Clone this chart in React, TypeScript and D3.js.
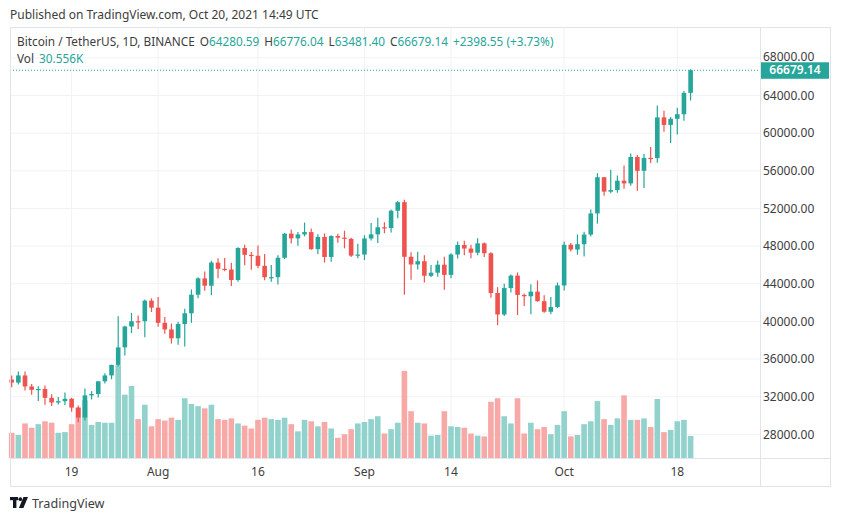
import React from "react";
import * as d3 from "d3";

const startDate = new Date(2021, 6, 10);
const endDate = new Date(2021, 9, 20);

const opens = [33815.81,33502.87,34259.0,33086.94,32729.12,32820.03,31874.49,31383.86,31520.07,31778.57,30839.65,29790.34,32144.51,32287.58,33634.1,34261.51,35381.02,37241.33,39456.61,40019.57,40018.49,42206.36,41461.84,39850.27,39146.86,38207.04,39723.17,40862.46,42836.87,44572.54,43794.36,46248.87,45585.0,45510.67,44400.06,47799.99,47068.5,46973.82,45901.3,44695.95,44699.37,46760.62,49322.47,48821.88,49239.22,49488.85,47674.01,48973.32,46843.86,49069.9,48895.35,48767.84,46982.91,47100.89,48810.51,49246.63,50000.0,49917.54,51756.88,52666.2,46868.57,46048.31,46395.14,44842.2,45173.68,46025.23,44940.72,47103.28,48121.4,47737.81,47299.98,48292.75,47241.75,43016.64,40734.09,43546.37,44865.26,42810.58,42670.63,43160.9,42147.35,41025.01,41524.29,43820.01,48141.6,47634.89,48200.01,49224.93,51471.99,55315.0,53785.22,53955.67,54949.72,54659.01,57471.35,55996.91,57370.83,57347.94,61672.42,60875.57,61528.32,62005.6,64280.59];
const highs = [34262.0,34666.0,34678.43,33340.0,33114.03,33185.25,32249.18,31955.92,32435.0,31899.0,31063.07,32858.0,32591.35,33650.0,34500.0,35398.0,40550.0,39542.61,40900.0,40640.0,42316.71,42448.0,42599.0,40480.01,39780.0,39969.66,41350.0,43392.43,44700.0,45310.0,46454.15,46700.0,46743.47,46218.12,47886.0,48144.0,47372.27,48053.83,47160.0,46000.0,47033.0,49382.99,49757.04,49500.0,50500.0,49860.0,49264.3,49352.84,49149.93,49299.0,49632.27,48888.61,48246.11,49156.0,50450.13,51000.0,50535.69,51900.0,52780.0,52920.0,47340.99,47399.97,47033.0,45987.93,46460.0,46880.0,47250.0,48500.0,48557.0,48150.0,48843.2,48372.83,47347.25,43639.0,44000.55,44978.0,45200.0,42966.84,43950.0,44350.0,42787.38,42590.0,44141.37,48495.0,48336.59,49228.08,49536.12,51886.3,55750.0,55332.31,56100.0,55489.0,56561.31,57839.04,57680.0,57777.0,58532.54,62933.0,62378.42,61718.39,62695.78,64486.0,66776.04];
const lows = [33004.78,33306.47,32658.34,32202.25,31550.0,31133.0,31020.0,31164.31,31108.97,30407.44,29278.0,29482.61,31708.0,31924.32,33401.14,33851.12,35205.78,36383.0,38772.0,39200.0,38313.23,41000.15,39422.01,38690.0,37642.03,37508.56,37332.7,39853.86,42446.41,43261.0,42779.0,44589.46,45341.14,43770.0,44217.39,45971.03,45500.0,45660.0,44376.0,44203.28,43927.7,46622.99,48280.0,48050.0,49029.0,47600.0,47126.28,46250.0,46348.0,48346.88,47762.54,46853.0,46700.0,46512.0,48584.06,48316.84,49370.0,49450.0,50969.33,42843.05,44412.02,45513.08,44132.29,44722.22,44742.06,43370.0,44594.44,46682.32,47021.1,46699.56,47035.56,46829.18,42500.0,39600.0,40565.39,43069.09,40675.0,41646.28,40750.0,42098.0,40931.0,40753.88,41410.17,43283.03,47430.18,47088.0,46891.0,49022.4,50382.41,53357.0,53617.61,53661.67,54080.0,54415.06,53879.0,54167.19,56818.05,56850.0,60150.0,58963.0,59844.45,61322.22,63481.4];
const closes = [33502.87,34258.99,33086.63,32729.77,32820.02,31880.0,31383.87,31520.07,31778.56,30839.65,29790.35,32144.51,32287.83,33634.09,34258.14,35381.02,37237.6,39457.87,40019.56,40016.48,42206.37,41461.83,39845.44,39147.82,38207.05,39723.18,40862.46,42836.87,44572.54,43794.37,46253.4,45584.99,45511.0,44399.0,47800.0,47068.51,46973.82,45901.29,44695.95,44705.29,46760.62,49322.47,48821.87,49239.22,49488.85,47674.01,48973.32,46843.87,49069.9,48895.35,48767.83,46982.91,47100.89,48810.52,49246.64,49999.14,49915.64,51756.88,52663.9,46863.73,46048.31,46395.14,44850.91,45173.69,46025.24,44940.73,47111.52,48121.41,47737.82,47299.98,48292.74,47241.75,43015.62,40734.38,43543.61,44865.26,42810.57,42670.64,43160.9,42147.35,41026.54,41524.28,43824.43,48141.61,47634.9,48200.01,49224.94,51471.99,55315.0,53785.22,53951.43,54949.72,54659.0,57471.35,55996.93,57367.0,57347.94,61672.42,60875.57,61528.33,62009.84,64280.59,66679.14];
const volumes = [35,32,48,42,47,51,49,35,36,47,70,80,46,50,49,49,129,88,100,54,74,44,54,52,56,53,83,75,72,69,74,54,53,55,48,45,41,53,56,54,53,56,47,37,53,51,44,50,41,28,33,40,48,50,54,58,34,40,49,121,65,49,48,31,32,65,44,43,42,34,31,30,78,83,58,48,83,34,49,40,43,33,46,65,30,32,47,51,79,54,46,55,87,53,53,55,43,82,36,39,51,53,30.556];

const priceTicks = [28000, 32000, 36000, 40000, 44000, 48000, 52000, 56000, 60000, 64000, 68000];
const timeTickDates = [new Date(2021, 6, 19), new Date(2021, 7, 1), new Date(2021, 7, 16), new Date(2021, 8, 1), new Date(2021, 8, 14), new Date(2021, 9, 1), new Date(2021, 9, 18)];
const timeTickLabels = ["19", "Aug", "16", "Sep", "14", "Oct", "18"];

const W = 841, H = 521;
const FONT = "'Noto Sans', 'DejaVu Sans', sans-serif";
const UP = "#26a69a", DOWN = "#ef5350";
const UPV = "#92d2cc", DOWNV = "#f7a9a7";
const TEXT = "#3d3d3d";

export default function App() {
  const dates = d3.timeDay.range(startDate, d3.timeDay.offset(endDate, 1));
  const data = dates.map((d, i) => ({ d, o: opens[i], h: highs[i], l: lows[i], c: closes[i], v: volumes[i] }));

  const paneLeft = 10, paneRight = 760, paneTop = 27, paneBottom = 458, outerRight = 830, outerBottom = 486;

  const x = d3.scaleTime().domain([startDate, endDate]).range([11.7, 690.6]);
  const y = d3.scaleLinear().domain([28000, 68000]).range([434.35, 57.85]);
  const yv = d3.scaleLinear().domain([0, 100]).range([paneBottom, paneBottom - 72]);

  const bodyW = 4.6, volW = 5.6;
  const last = data[data.length - 1];
  const lastY = y(last.c);
  const change = last.c - last.o;
  const pct = (change / last.o) * 100;
  const fmt = d3.format(".2f");
  const teal = "#26a69a";

  return (
    <svg width={W} height={H} style={{ position: "absolute", left: 0, top: 0, background: "#fff" }} fontFamily={FONT}>
      <rect x={0} y={0} width={W} height={H} fill="#fff" />
      <text x={10} y={19} fontSize={12} fill={TEXT}>Published on TradingView.com, Oct 20, 2021 14:49 UTC</text>

      {/* gridlines */}
      <g>
        {priceTicks.map((p) => (
          <line key={"hg" + p} x1={paneLeft} x2={paneRight} y1={y(p)} y2={y(p)} stroke="#f0f2f5" strokeWidth={1} />
        ))}
        {timeTickDates.map((d, i) => (
          <line key={"vg" + i} x1={x(d)} x2={x(d)} y1={paneTop} y2={paneBottom} stroke="#f0f2f5" strokeWidth={1} />
        ))}
      </g>

      {/* volume */}
      <g>
        {data.map((e, i) => (
          <rect key={"v" + i} x={x(e.d) - volW / 2} y={yv(e.v)} width={volW} height={paneBottom - yv(e.v)} fill={e.c >= e.o ? UPV : DOWNV} />
        ))}
      </g>

      {/* candles */}
      <g>
        {data.map((e, i) => {
          const col = e.c >= e.o ? UP : DOWN;
          const cx = x(e.d);
          const top = y(Math.max(e.o, e.c));
          const bot = y(Math.min(e.o, e.c));
          return (
            <g key={"c" + i}>
              <line x1={cx} x2={cx} y1={y(e.h)} y2={y(e.l)} stroke={col} strokeWidth={1.2} />
              <rect x={cx - bodyW / 2} y={top} width={bodyW} height={Math.max(1.2, bot - top)} fill={col} />
            </g>
          );
        })}
      </g>

      {/* last price line */}
      <line x1={paneLeft} x2={paneRight} y1={lastY} y2={lastY} stroke={teal} strokeWidth={1} strokeDasharray="1,2" />

      {/* frame */}
      <rect x={paneLeft + 0.5} y={paneTop + 0.5} width={outerRight - paneLeft} height={outerBottom - paneTop} fill="none" stroke="#e0e3eb" />
      <line x1={paneRight + 0.5} x2={paneRight + 0.5} y1={paneTop} y2={outerBottom} stroke="#e0e3eb" />
      <line x1={paneLeft} x2={outerRight} y1={paneBottom + 0.5} y2={paneBottom + 0.5} stroke="#e0e3eb" />

      {/* price axis */}
      <g>
        {priceTicks.map((p) => (
          <text key={"pt" + p} x={763} y={p === 68000 ? y(p) - 1.5 : y(p)} dy="0.35em" fontSize={12} fill={TEXT}>{fmt(p)}</text>
        ))}
        <rect x={761} y={lastY - 8} width={68} height={16.5} fill={teal} />
        <text x={795} y={lastY} dy="0.35em" fontSize={12} fill="#fff" fontWeight={600} textAnchor="middle">{fmt(last.c)}</text>
      </g>

      {/* time axis */}
      <g>
        {timeTickDates.map((d, i) => (
          <text key={"tt" + i} x={x(d)} y={472} dy="0.35em" fontSize={12} fill={TEXT} textAnchor="middle">{timeTickLabels[i]}</text>
        ))}
      </g>

      {/* legend */}
      <text x={17} y={46} fontSize={11.8} fill={TEXT}>
        <tspan>Bitcoin / TetherUS, 1D, BINANCE</tspan>
        <tspan dx={5}>O</tspan>
        <tspan fill={teal}>{fmt(last.o)}</tspan>
        <tspan dx={5}>H</tspan>
        <tspan fill={teal}>{fmt(last.h)}</tspan>
        <tspan dx={5}>L</tspan>
        <tspan fill={teal}>{fmt(last.l)}</tspan>
        <tspan dx={5}>C</tspan>
        <tspan fill={teal}>{fmt(last.c)}</tspan>
        <tspan dx={5} fill={teal}>+{fmt(change)} (+{fmt(pct)}%)</tspan>
      </text>
      <text x={17} y={63} fontSize={11.8} fill={TEXT}>
        <tspan>Vol</tspan>
        <tspan dx={5} fill={teal}>{d3.format(".3f")(last.v)}K</tspan>
      </text>

      {/* footer logo */}
      <g fill="#131722">
        <rect x={10} y={497} width={8} height={3.2} />
        <rect x={13} y={497} width={3.4} height={11} />
        <circle cx={20.3} cy={499.2} r={1.9} />
        <path d="M23.5 497 L28 497 L23.4 508 L18.9 508 Z" />
      </g>
      <text x={32} y={507.5} fontSize={12.6} fill={TEXT}>TradingView</text>
    </svg>
  );
}
